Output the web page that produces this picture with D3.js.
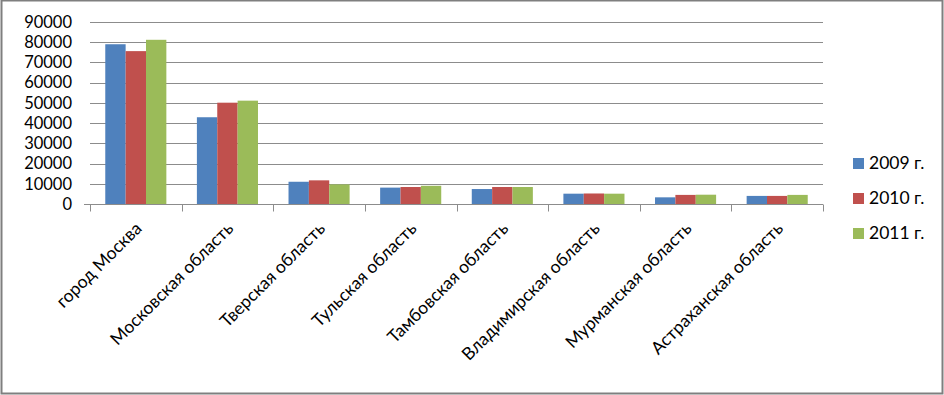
<!DOCTYPE html>
<html>
<head>
<meta charset="utf-8">
<script src="https://cdn.jsdelivr.net/npm/d3@7"></script>
<style>
  body { margin: 0; background: #fff; }
  svg { display: block; }
</style>
</head>
<body>
<script>
// data
const regions = ["город Москва", "Московская область", "Тверская область", "Тульская область",
  "Тамбовская область", "Владимирская область", "Мурманская область", "Астраханская область"];
const years = ["2009 г.", "2010 г.", "2011 г."];
const v2009 = [79000, 42900, 11000, 8100, 7400, 5100, 3300, 4000];
const v2010 = [75600, 50100, 11700, 8400, 8400, 5200, 4500, 4000];
const v2011 = [81200, 51100, 9700, 9000, 8400, 5100, 4600, 4500];
const yTicks = [0, 10000, 20000, 30000, 40000, 50000, 60000, 70000, 80000, 90000];
const colors = ["#4F81BD", "#C0504D", "#9BBB59"];

const width = 944, height = 395;
const margin = {top: 22, right: 121, bottom: 191, left: 90};
const font = "Lato, 'Open Sans', sans-serif";

const rows = regions.map((r, i) => ({region: r, vals: [v2009[i], v2010[i], v2011[i]]}));

const svg = d3.select("body").append("svg")
  .attr("width", width)
  .attr("height", height)
  .style("font-family", font);

// outer frame
svg.append("rect")
  .attr("x", 1.5).attr("y", 0.5)
  .attr("width", width - 3).attr("height", height - 2)
  .attr("fill", "#fff")
  .attr("stroke", "#7f7f7f")
  .attr("stroke-width", 2);

const x = d3.scaleBand()
  .domain(regions)
  .range([margin.left, width - margin.right]);

const step = x.bandwidth() / 4.5; // excel gap width 150%
const xs = d3.scaleBand()
  .domain(d3.range(3))
  .range([x.bandwidth() / 2 - 1.5 * step, x.bandwidth() / 2 + 1.5 * step]);

const y = d3.scaleLinear()
  .domain([0, 90000])
  .range([height - margin.bottom, margin.top]);

// grid
svg.append("g")
  .selectAll("line")
  .data(yTicks.slice(1))
  .join("line")
  .attr("x1", margin.left)
  .attr("x2", width - margin.right)
  .attr("y1", d => Math.round(y(d)) + 0.5)
  .attr("y2", d => Math.round(y(d)) + 0.5)
  .attr("stroke", "#8c8c8c")
  .attr("stroke-width", 1);

// y labels
svg.append("g")
  .selectAll("text")
  .data(yTicks)
  .join("text")
  .attr("x", margin.left - 18)
  .attr("y", d => y(d))
  .attr("dy", "0.35em")
  .attr("text-anchor", "end")
  .attr("font-size", 16.5)
  .attr("fill", "#000")
  .text(d => d);

// bars
svg.append("g")
  .selectAll("g")
  .data(rows)
  .join("g")
  .attr("transform", d => `translate(${x(d.region)},0)`)
  .selectAll("rect")
  .data(d => d.vals)
  .join("rect")
  .attr("x", (d, i) => xs(i))
  .attr("width", xs.bandwidth())
  .attr("y", d => y(d))
  .attr("height", d => y(0) - y(d))
  .attr("fill", (d, i) => colors[i]);

// x axis
const xAxis = svg.append("g")
  .attr("transform", `translate(0,${Math.round(y(0)) + 0.5})`);
xAxis.append("line")
  .attr("x1", margin.left - 6)
  .attr("x2", width - margin.right)
  .attr("stroke", "#8c8c8c");
xAxis.selectAll("line.tick")
  .data(regions.map(r => x(r)).concat([width - margin.right]))
  .join("line")
  .attr("class", "tick")
  .attr("x1", d => Math.round(d) + 0.5)
  .attr("x2", d => Math.round(d) + 0.5)
  .attr("y1", 0)
  .attr("y2", 7)
  .attr("stroke", "#8c8c8c");

xAxis.selectAll("text")
  .data(regions)
  .join("text")
  .attr("transform", d => `translate(${x(d) + x.bandwidth() / 2 + 7},${25}) rotate(-45)`)
  .attr("text-anchor", "end")
  .attr("font-size", 17.5)
  .attr("fill", "#000")
  .text(d => d);

// legend
const legend = svg.append("g")
  .attr("transform", `translate(853,163)`)
  .selectAll("g")
  .data(years)
  .join("g")
  .attr("transform", (d, i) => `translate(0,${i * 35})`);
legend.append("rect")
  .attr("x", 0).attr("y", -5)
  .attr("width", 11).attr("height", 11)
  .attr("fill", (d, i) => colors[i]);
legend.append("text")
  .attr("x", 16)
  .attr("dy", "0.35em")
  .attr("font-size", 17.5)
  .attr("fill", "#000")
  .text(d => d);
</script>
</body>
</html>
